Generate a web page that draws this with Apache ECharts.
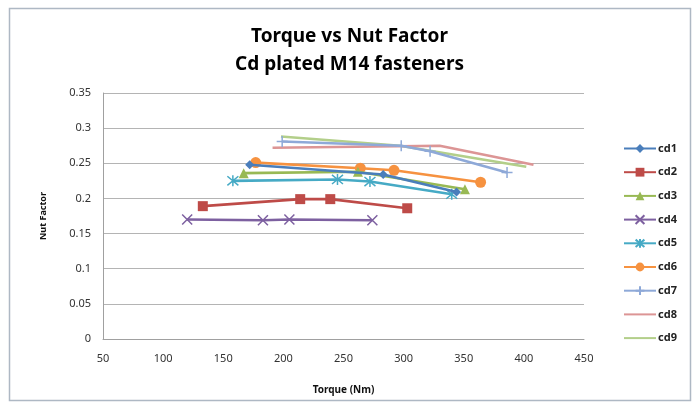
<!DOCTYPE html>
<html>
<head>
<meta charset="utf-8">
<script src="https://cdn.jsdelivr.net/npm/echarts@6/dist/echarts.min.js"></script>
<style>
html,body{margin:0;padding:0;background:#fff;}
#chart{width:699px;height:408px;}
</style>
</head>
<body>
<div id="chart"></div>
<script>
// Data
var seriesNames = ['cd1','cd2','cd3','cd4','cd5','cd6','cd7','cd8','cd9'];
var cd1Torque = [172, 283, 344];
var cd1NF     = [0.248, 0.234, 0.209];
var cd2Torque = [133, 214, 239, 303];
var cd2NF     = [0.189, 0.199, 0.199, 0.186];
var cd3Torque = [167, 262, 351];
var cd3NF     = [0.236, 0.238, 0.213];
var cd4Torque = [120, 183, 205, 274];
var cd4NF     = [0.170, 0.169, 0.170, 0.169];
var cd5Torque = [158, 245, 272, 340];
var cd5NF     = [0.225, 0.227, 0.224, 0.206];
var cd6Torque = [177, 264, 292, 364];
var cd6NF     = [0.251, 0.243, 0.240, 0.223];
var cd7Torque = [199, 298, 322, 386];
var cd7NF     = [0.281, 0.275, 0.267, 0.237];
var cd8Torque = [191, 330, 408];
var cd8NF     = [0.272, 0.275, 0.248];
var cd9Torque = [198, 297, 402];
var cd9NF     = [0.288, 0.275, 0.245];
var xTicks = [50, 100, 150, 200, 250, 300, 350, 400, 450];
var yTicks = [0, 0.05, 0.1, 0.15, 0.2, 0.25, 0.3, 0.35];

var torques = [cd1Torque, cd2Torque, cd3Torque, cd4Torque, cd5Torque, cd6Torque, cd7Torque, cd8Torque, cd9Torque];
var nfs = [cd1NF, cd2NF, cd3NF, cd4NF, cd5NF, cd6NF, cd7NF, cd8NF, cd9NF];

var colors = ['#4A7EBB','#BE4B48','#98B954','#7D60A0','#46AAC5','#F69240','#8EA9D8','#DC9595','#B3CF8A'];
var symbols = [
  'diamond',
  'rect',
  'triangle',
  'path://M0,0L10,10M10,0L0,10',
  'path://M5,-1L5,11M0,0L10,10M10,0L0,10',
  'circle',
  'path://M5,0L5,10M0,5L10,5',
  'none',
  'none'
];
var sizes = [9, 10, 10, 10, 11, 11, 11, 0, 0];

var series = seriesNames.map(function(n, i){
  var data = torques[i].map(function(t, k){ return [t, nfs[i][k]]; });
  var stroke = (i === 3 || i === 4 || i === 6);
  return {
    name: n,
    type: 'line',
    data: data,
    symbol: symbols[i],
    symbolSize: sizes[i],
    showSymbol: symbols[i] !== 'none',
    lineStyle: {color: colors[i], width: 2.6},
    itemStyle: {color: stroke ? 'rgba(0,0,0,0)' : colors[i], borderColor: colors[i], borderWidth: stroke ? 1.5 : 0},
    z: 2 + (9 - i),
    animation: false
  };
});

var legendData = seriesNames.map(function(n, i){
  if (symbols[i] === 'none') {
    return {name: n, itemStyle: {opacity: 0}};
  }
  return {name: n};
});

var chart = echarts.init(document.getElementById('chart'), null, {renderer: 'canvas'});
chart.setOption({
  backgroundColor: '#fff',
  animation: false,
  textStyle: {fontFamily: 'Noto Sans'},
  title: {
    text: 'Torque vs Nut Factor\nCd plated M14 fasteners',
    left: 'center',
    top: 18,
    textStyle: {fontFamily: 'Noto Sans', fontWeight: 'bold', fontSize: 19, lineHeight: 28, color: '#000'}
  },
  graphic: [{
    type: 'rect',
    shape: {x: 9.5, y: 8.5, width: 681, height: 392},
    style: {fill: 'none', stroke: '#AEB8C4', lineWidth: 1.5},
    silent: true,
    z: -1
  }],
  legend: {
    orient: 'vertical',
    left: 618,
    top: 138,
    itemWidth: 32,
    itemHeight: 11,
    itemGap: 12.7,
    data: legendData,
    textStyle: {fontFamily: 'Noto Sans', fontSize: 11, fontWeight: 'bold', color: '#222', padding: [0,0,0,-3]}
  },
  grid: {left: 103, right: 115, top: 93, bottom: 69, containLabel: false},
  xAxis: {
    type: 'value',
    min: xTicks[0],
    max: xTicks[xTicks.length - 1],
    interval: 50,
    name: 'Torque (Nm)',
    nameLocation: 'middle',
    nameGap: 46,
    nameTextStyle: {fontFamily: 'Noto Sans', fontWeight: 'bold', fontSize: 10, color: '#111'},
    axisLine: {show: true, lineStyle: {color: '#A0A0A0', width: 1}},
    axisTick: {show: false},
    splitLine: {show: false},
    axisLabel: {fontFamily: 'Noto Sans', fontSize: 11, color: '#333', margin: 14}
  },
  yAxis: {
    type: 'value',
    min: yTicks[0],
    max: yTicks[yTicks.length - 1],
    interval: 0.05,
    name: 'Nut Factor',
    nameLocation: 'middle',
    nameGap: 55,
    nameRotate: 90,
    nameTextStyle: {fontFamily: 'Noto Sans', fontWeight: 'bold', fontSize: 9, color: '#111'},
    axisLine: {show: true, lineStyle: {color: '#A0A0A0', width: 1}},
    axisTick: {show: false},
    splitLine: {show: true, lineStyle: {color: '#B4B4B4', width: 1}},
    axisLabel: {fontFamily: 'Noto Sans', fontSize: 11, color: '#333', margin: 12,
      formatter: function(v){ return String(Math.round(v*100)/100); }}
  },
  series: series
});
</script>
</body>
</html>
